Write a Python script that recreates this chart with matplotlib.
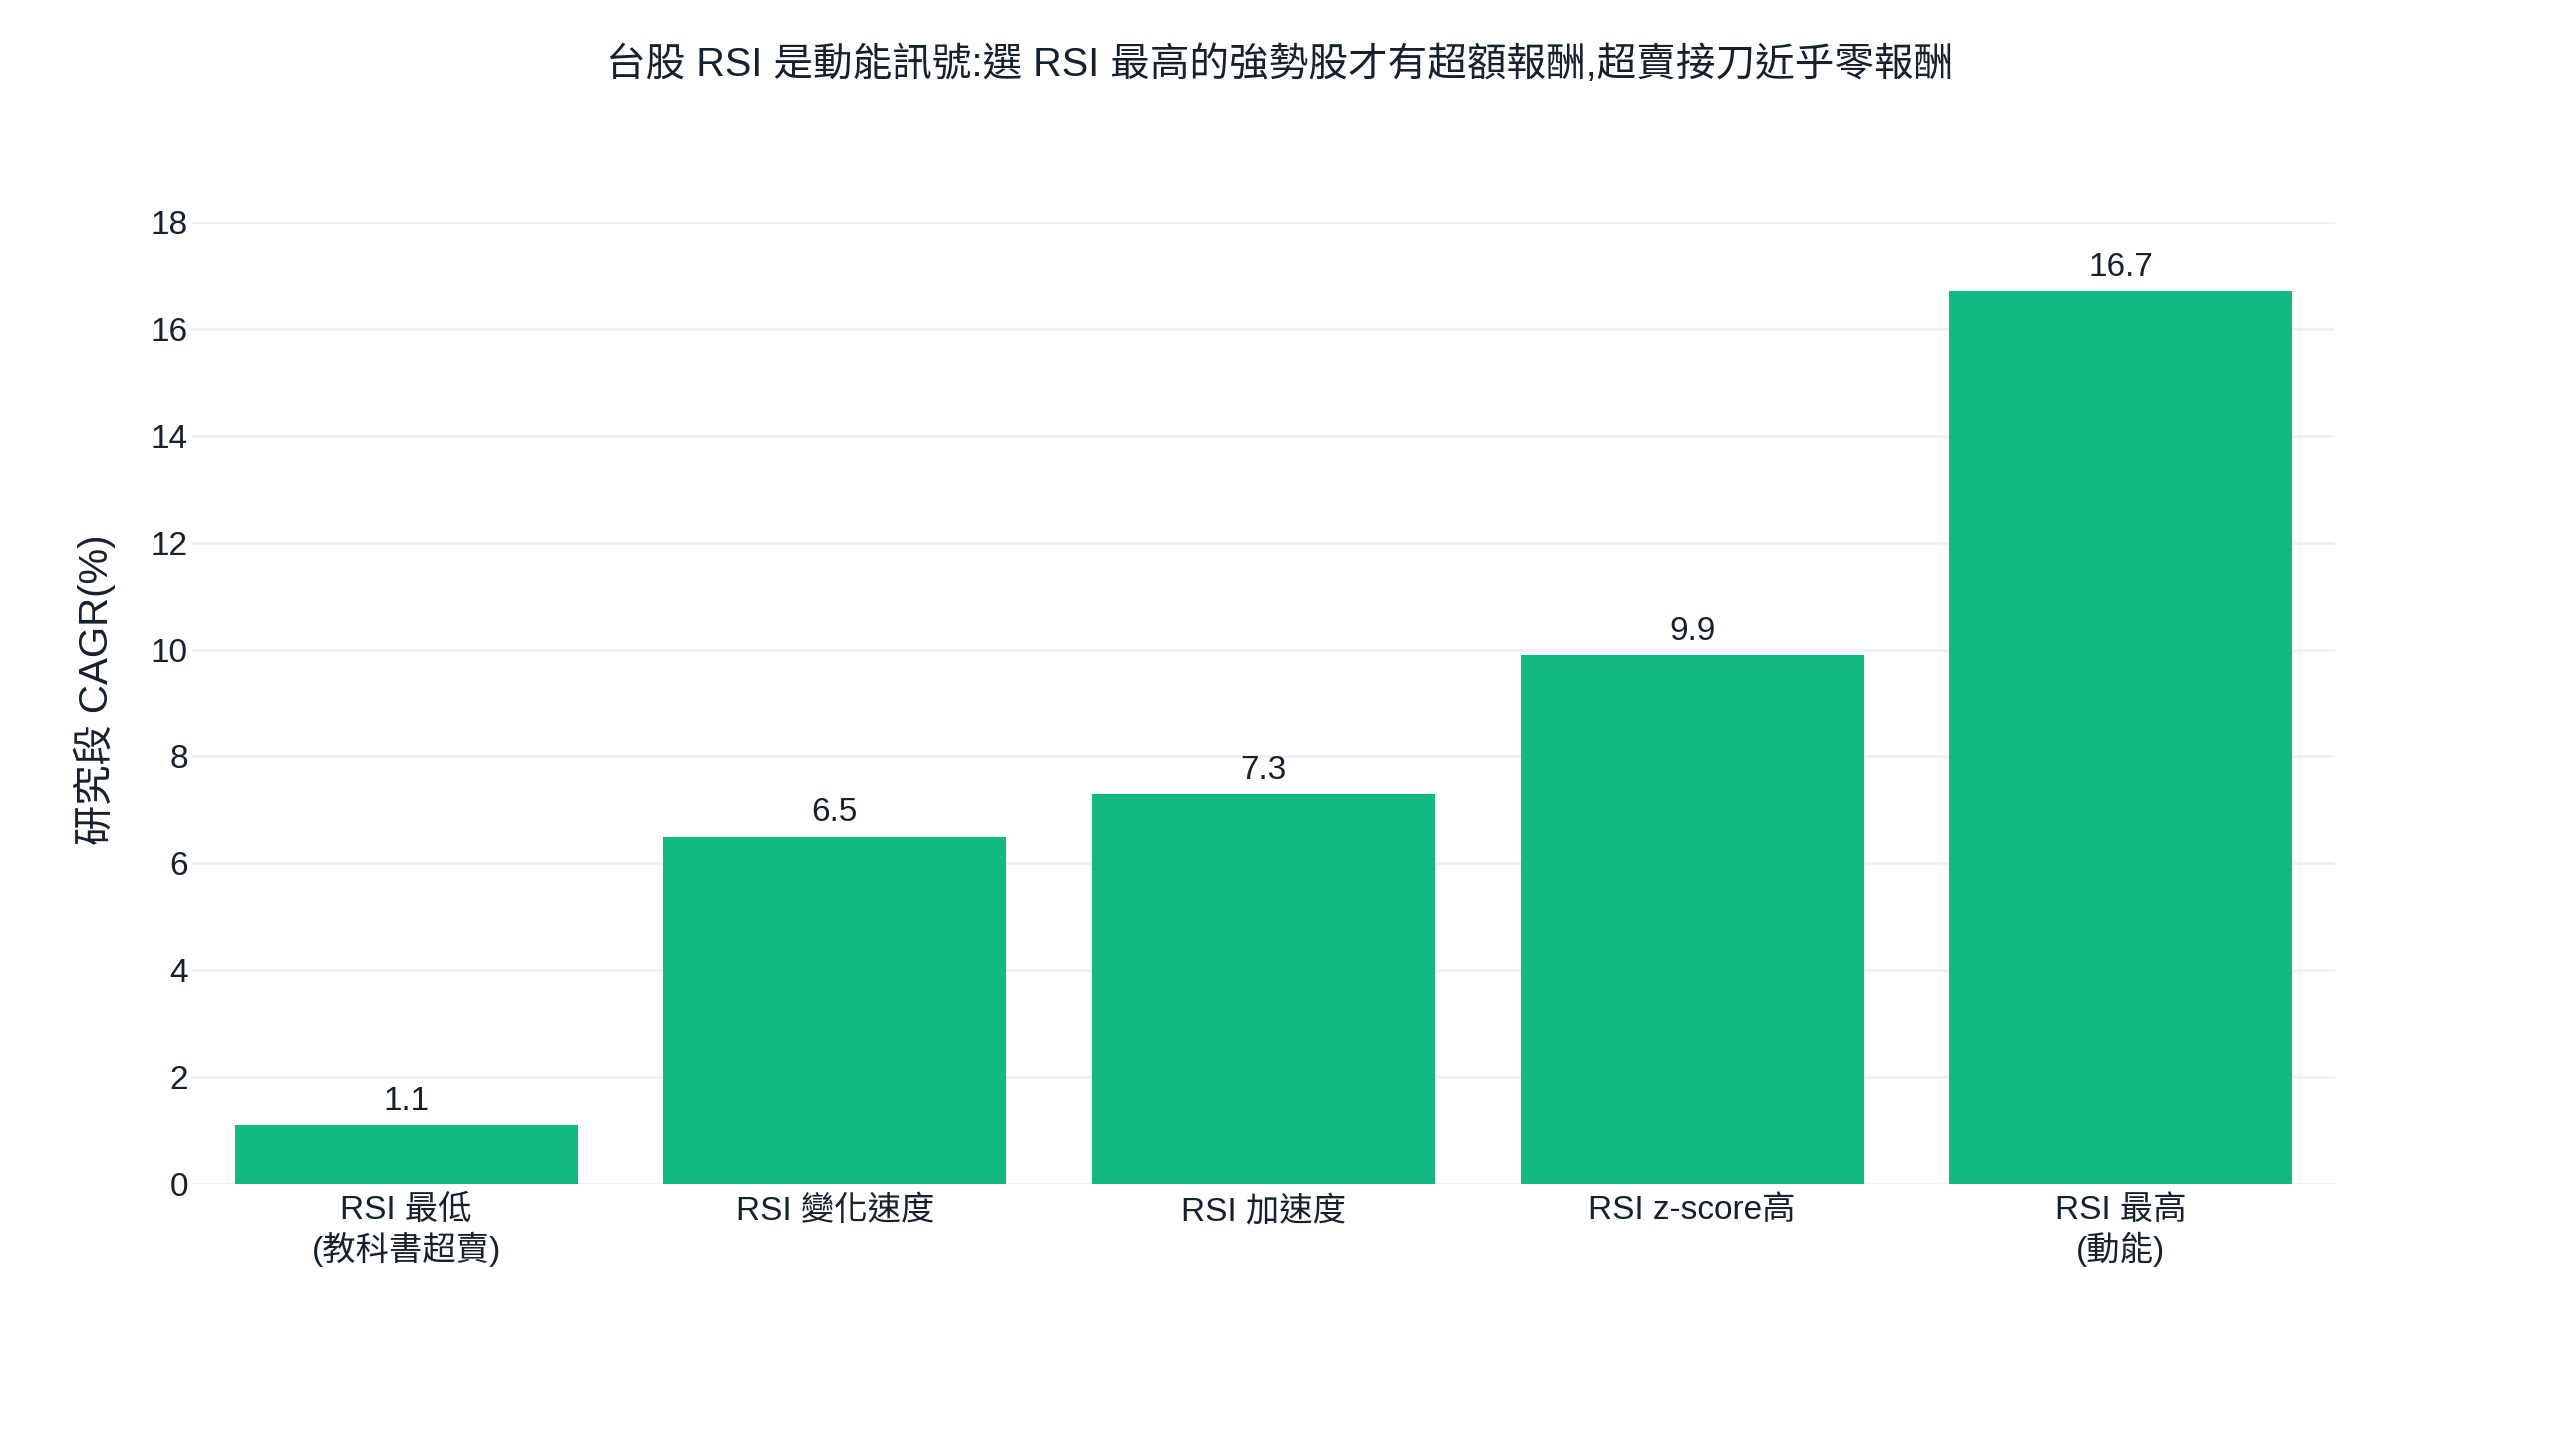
import matplotlib
matplotlib.use("Agg")
import matplotlib.pyplot as plt

categories = ["RSI 最低\n(教科書超賣)", "RSI 變化速度", "RSI 加速度", "RSI z-score高", "RSI 最高\n(動能)"]
values = [1.1, 6.5, 7.3, 9.9, 16.7]
yticks = [0, 2, 4, 6, 8, 10, 12, 14, 16, 18]
title = "台股 RSI 是動能訊號:選 RSI 最高的強勢股才有超額報酬,超賣接刀近乎零報酬"
ylabel = "研究段 CAGR(%)"

FONTS = ["Liberation Sans", "Noto Sans CJK TC", "DejaVu Sans"]
plt.rcParams["font.family"] = FONTS
TXT = "#17202e"
BAR = "#12b981"
GRID = "#edf0f5"

fig = plt.figure(figsize=(25.6, 14.4), dpi=100)
ax = fig.add_axes([192/2560, 1-1184/1440, (2335-192)/2560, (1184-222)/1440])

x = list(range(len(categories)))
ax.bar(x, values, width=0.8, color=BAR, zorder=3)
for xi, v in zip(x, values):
    ax.annotate(f"{v:.1f}", (xi, v), xytext=(0, 6), textcoords="offset points",
                ha="center", va="bottom", fontsize=24, color=TXT)

ax.set_xlim(-0.5, len(categories) - 0.5)
ax.set_ylim(0, 18)
ax.set_yticks(yticks)
ax.set_yticklabels([str(t) for t in yticks])
ax.set_xticks(x)
ax.set_xticklabels(categories, linespacing=1.2)
ax.tick_params(axis="both", length=0, labelsize=24, labelcolor=TXT)
ax.tick_params(axis="y", pad=3)
ax.tick_params(axis="x", pad=8)
ax.grid(axis="y", color=GRID, linewidth=2, zorder=0)
ax.set_axisbelow(True)
for s in ax.spines.values():
    s.set_visible(False)

fig.text(0.5, 1-65/1440, title, ha="center", va="center", fontsize=28.5, color=TXT)
fig.text(95/2560, 1-690/1440, ylabel, ha="center", va="center", rotation=90, fontsize=29, color=TXT)

fig.savefig("out.png", dpi=100, facecolor="white")
